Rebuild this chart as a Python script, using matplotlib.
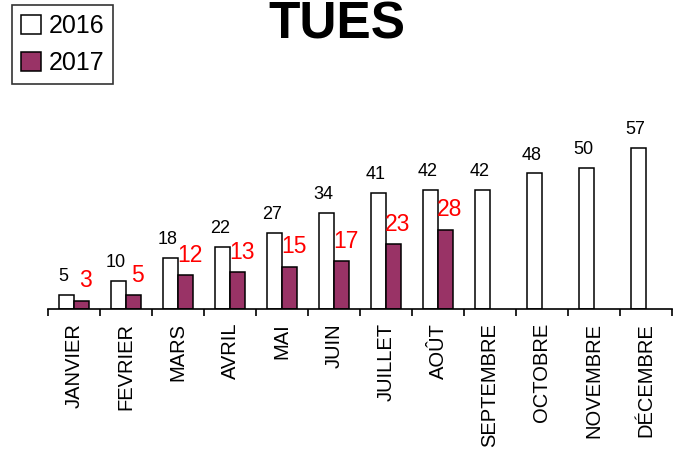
import numpy as np
import matplotlib
matplotlib.use("Agg")
import matplotlib.pyplot as plt
from matplotlib.ticker import FixedLocator, NullFormatter

plt.rcParams["font.family"] = ["Liberation Sans", "DejaVu Sans"]

# data
months = ["JANVIER", "FEVRIER", "MARS", "AVRIL", "MAI", "JUIN", "JUILLET",
          "AOÛT", "SEPTEMBRE", "OCTOBRE", "NOVEMBRE", "DÉCEMBRE"]
values_2016 = [5, 10, 18, 22, 27, 34, 41, 42, 42, 48, 50, 57]
values_2017 = [3, 5, 12, 13, 15, 17, 23, 28]

plum = "#993366"
bar_w = 0.29

fig = plt.figure(figsize=(6.74, 4.5), dpi=100)
ax = fig.add_axes([48 / 674, 0.3133, 624 / 674, 0.44])

x = np.arange(len(months))
x17 = np.arange(len(values_2017))

b16 = ax.bar(x - bar_w / 2, values_2016, bar_w, color="white",
             edgecolor="black", linewidth=1.1, label="2016")
b17 = ax.bar(x17 + bar_w / 2, values_2017, bar_w, color=plum,
             edgecolor="black", linewidth=1.1, label="2017")

for xi, v in zip(x, values_2016):
    ax.annotate(str(v), (xi - bar_w / 2, v), xytext=(-2, 7),
                textcoords="offset points", ha="center", va="bottom",
                fontsize=13, color="black")
for xi, v in zip(x17, values_2017):
    ax.annotate(str(v), (xi + bar_w / 2, v), xytext=(3, 6),
                textcoords="offset points", ha="center", va="bottom",
                fontsize=16.5, color="red")

ax.set_xlim(-0.5, len(months) - 0.5)
ax.set_ylim(0, 70)

for side in ["top", "right", "left"]:
    ax.spines[side].set_visible(False)
ax.spines["bottom"].set_linewidth(1.2)
ax.set_yticks([])

ax.set_xticks(x)
ax.set_xticklabels(months, rotation=90, fontsize=14.5, va="top")
ax.tick_params(axis="x", which="major", length=0, pad=10)
ax.xaxis.set_minor_locator(FixedLocator(np.arange(len(months) + 1) - 0.5))
ax.xaxis.set_minor_formatter(NullFormatter())
ax.tick_params(axis="x", which="minor", length=5, width=1.2, direction="out")

fig.text(0.5, 1 - 25 / 450, "TUES", ha="center", va="center",
         fontsize=37, fontweight="bold")

leg = fig.legend(handles=[b16, b17], loc="upper left",
                 bbox_to_anchor=(12 / 674, 1 - 5 / 450), fontsize=18,
                 frameon=True, fancybox=False, borderaxespad=0,
                 handlelength=0.8, handleheight=0.8, handletextpad=0.3,
                 borderpad=0.35, labelspacing=0.55)
leg.get_frame().set_edgecolor("black")
leg.get_frame().set_linewidth(1.2)

fig.savefig("out.png", dpi=100)
